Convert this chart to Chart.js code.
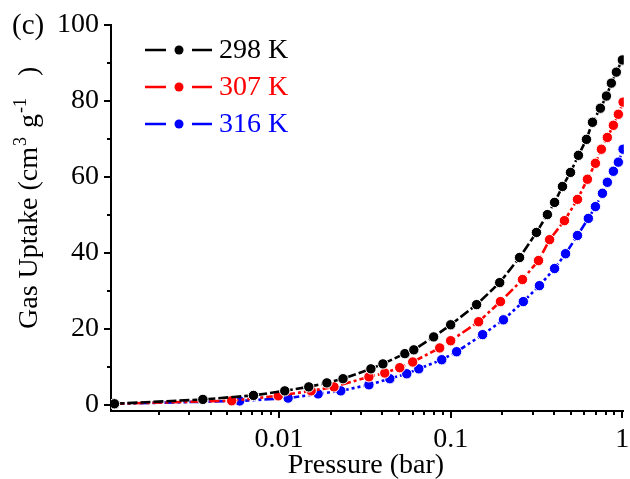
<!DOCTYPE html>
<html>
<head>
<meta charset="utf-8">
<script src="https://cdn.jsdelivr.net/npm/chart.js@4.4.1/dist/chart.umd.min.js"></script>
<style>
  body { margin: 0; background: #fff; }
  canvas { display: block; }
</style>
</head>
<body>
<canvas id="myChart" width="630" height="479"></canvas>
<script>
// pressure (bar) / uptake (cm3 g-1) for each temperature
const p298 = [0.0011, 0.0036, 0.0071, 0.0108, 0.0149, 0.019, 0.0236, 0.0343, 0.0403, 0.0541, 0.061, 0.0796, 0.1, 0.1416, 0.193, 0.252, 0.316, 0.366, 0.403, 0.448, 0.499, 0.555, 0.618, 0.67, 0.745, 0.808, 0.863, 0.923, 1.0];
const u298 = [0.3, 1.45, 2.5, 3.7, 4.75, 5.8, 6.9, 9.5, 10.8, 13.5, 14.5, 17.9, 21.1, 26.4, 32.2, 38.8, 45.4, 50.1, 53.3, 57.5, 61.2, 65.7, 69.9, 74.4, 78.1, 81.3, 84.7, 87.6, 90.8];

const p307 = [0.0011, 0.0053, 0.0099, 0.0154, 0.0209, 0.0334, 0.0413, 0.0505, 0.0601, 0.0863, 0.1, 0.1455, 0.195, 0.262, 0.325, 0.377, 0.46, 0.548, 0.626, 0.697, 0.755, 0.818, 0.887, 0.948, 1.01];
const u307 = [0.3, 1.1, 2.4, 3.7, 4.75, 7.4, 8.4, 9.8, 11.3, 15.0, 16.9, 21.9, 27.2, 33.0, 38.0, 43.5, 48.5, 54.1, 59.4, 63.6, 67.3, 70.4, 73.6, 76.5, 79.7];

const p316 = [0.0011, 0.0059, 0.0113, 0.0169, 0.0229, 0.0334, 0.0442, 0.0555, 0.0652, 0.0887, 0.1083, 0.1535, 0.203, 0.265, 0.329, 0.403, 0.467, 0.548, 0.634, 0.697, 0.766, 0.818, 0.887, 0.948, 1.01];
const u316 = [0.3, 1.05, 1.8, 2.9, 3.7, 5.3, 6.9, 8.2, 9.5, 11.9, 14.0, 18.5, 22.4, 27.2, 31.4, 35.9, 39.8, 44.6, 49.1, 52.2, 55.7, 58.6, 61.5, 63.9, 67.3];

const seriesNames = ['298 K', '307 K', '316 K'];
const seriesColors = ['#000000', '#ff0000', '#0000ff'];
const seriesDashes = [[10, 3], [10, 3, 3, 3], [10, 3, 3, 3, 3, 3]];

const xTickValues = [0.01, 0.1, 1];
const yTickValues = [0, 20, 40, 60, 80, 100];
const yMinorValues = [10, 30, 50, 70, 90];

const FONT = "'Liberation Serif', 'Times New Roman', serif";

function toPoints(xs, ys) {
  return xs.map((x, i) => ({ x: x, y: ys[i] }));
}

const allData = [toPoints(p298, u298), toPoints(p307, u307), toPoints(p316, u316)];

const datasets = allData.map((pts, i) => ({
  label: seriesNames[i],
  data: pts,
  borderColor: seriesColors[i],
  backgroundColor: seriesColors[i],
  borderWidth: 2.6,
  borderDash: seriesDashes[i],
  pointRadius: 5.2,
  pointBorderColor: '#ffffff',
  pointBorderWidth: 1,
  pointBackgroundColor: seriesColors[i],
  tension: 0
}));

// tick marks, titles, legend and panel letter
const decorations = {
  id: 'decorations',
  afterDraw(chart) {
    const c = chart.ctx;
    const xs = chart.scales.x;
    const ys = chart.scales.y;
    const area = chart.chartArea;
    c.save();
    c.strokeStyle = '#000';
    c.lineWidth = 2;

    // y ticks
    yTickValues.forEach(v => {
      const py = Math.round(ys.getPixelForValue(v));
      c.beginPath(); c.moveTo(area.left - 7, py); c.lineTo(area.left, py); c.stroke();
    });
    yMinorValues.forEach(v => {
      const py = Math.round(ys.getPixelForValue(v));
      c.beginPath(); c.moveTo(area.left - 4, py); c.lineTo(area.left, py); c.stroke();
    });

    // x ticks (log decades with minor ticks)
    for (let d = -3; d <= 0; d++) {
      for (let m = 1; m <= 9; m++) {
        const v = m * Math.pow(10, d);
        if (v < xs.min || v > xs.max) continue;
        const px = Math.round(xs.getPixelForValue(v));
        const len = m === 1 ? 7 : 4;
        c.beginPath(); c.moveTo(px, area.bottom); c.lineTo(px, area.bottom + len); c.stroke();
      }
    }

    // axis titles
    c.fillStyle = '#000';
    c.font = '28px ' + FONT;
    c.textAlign = 'center';
    c.textBaseline = 'alphabetic';
    c.fillText('Pressure (bar)', 366, 473);

    c.translate(37, 329);
    c.rotate(-Math.PI / 2);
    c.textAlign = 'left';
    // [text, size, raise, gap before]
    const parts = [
      ['Gas Uptake (cm', 28, 0, 0],
      ['3', 18, -11, 1],
      ['g', 28, 0, 9],
      ['-1', 18, -11, 1],
      [')', 28, 0, 22]
    ];
    let cx = 0;
    parts.forEach(([t, s, dy, gap]) => {
      cx += gap;
      c.font = s + 'px ' + FONT;
      c.fillText(t, cx, dy);
      cx += c.measureText(t).width;
    });
    c.setTransform(1, 0, 0, 1, 0, 0);

    // panel letter
    c.font = '29px ' + FONT;
    c.textAlign = 'left';
    c.textBaseline = 'middle';
    c.fillText('(c)', 12, 26);

    // legend
    const rows = [50, 87, 124];
    rows.forEach((ry, i) => {
      c.strokeStyle = seriesColors[i];
      c.fillStyle = seriesColors[i];
      c.lineWidth = 2.4;
      c.beginPath();
      c.moveTo(145, ry); c.lineTo(166, ry);
      c.moveTo(192, ry); c.lineTo(212, ry);
      c.stroke();
      c.beginPath();
      c.arc(179, ry, 4.5, 0, Math.PI * 2);
      c.fill();
      c.font = '28px ' + FONT;
      c.textBaseline = 'middle';
      c.fillText(seriesNames[i], 219, ry + 1);
    });
    c.restore();
  }
};

new Chart(document.getElementById('myChart'), {
  type: 'line',
  data: { datasets: datasets },
  options: {
    responsive: false,
    animation: false,
    layout: { padding: { left: 0, right: 4, top: 25, bottom: 0 } },
    plugins: {
      legend: { display: false },
      tooltip: { enabled: false }
    },
    scales: {
      x: {
        type: 'logarithmic',
        min: 0.00105,
        max: 1.02,
        afterBuildTicks: scale => { scale.ticks = xTickValues.map(v => ({ value: v })); },
        afterFit: scale => {
          scale.height = 68;
          scale.paddingLeft = 0;
          scale.paddingRight = 0;
        },
        border: { display: true, color: '#000', width: 2 },
        grid: { display: false, drawTicks: false },
        ticks: {
          color: '#000',
          padding: 12,
          maxRotation: 0,
          autoSkip: false,
          font: { family: FONT, size: 28 },
          callback: v => String(v)
        }
      },
      y: {
        min: -1.6,
        max: 100,
        afterBuildTicks: scale => { scale.ticks = yTickValues.map(v => ({ value: v })); },
        afterFit: scale => {
          scale.width = 111;
          scale.paddingTop = 0;
          scale.paddingBottom = 0;
        },
        border: { display: true, color: '#000', width: 2 },
        grid: { display: false, drawTicks: false },
        ticks: {
          color: '#000',
          padding: 12,
          font: { family: FONT, size: 28 }
        }
      }
    }
  },
  plugins: [decorations]
});
</script>
</body>
</html>
